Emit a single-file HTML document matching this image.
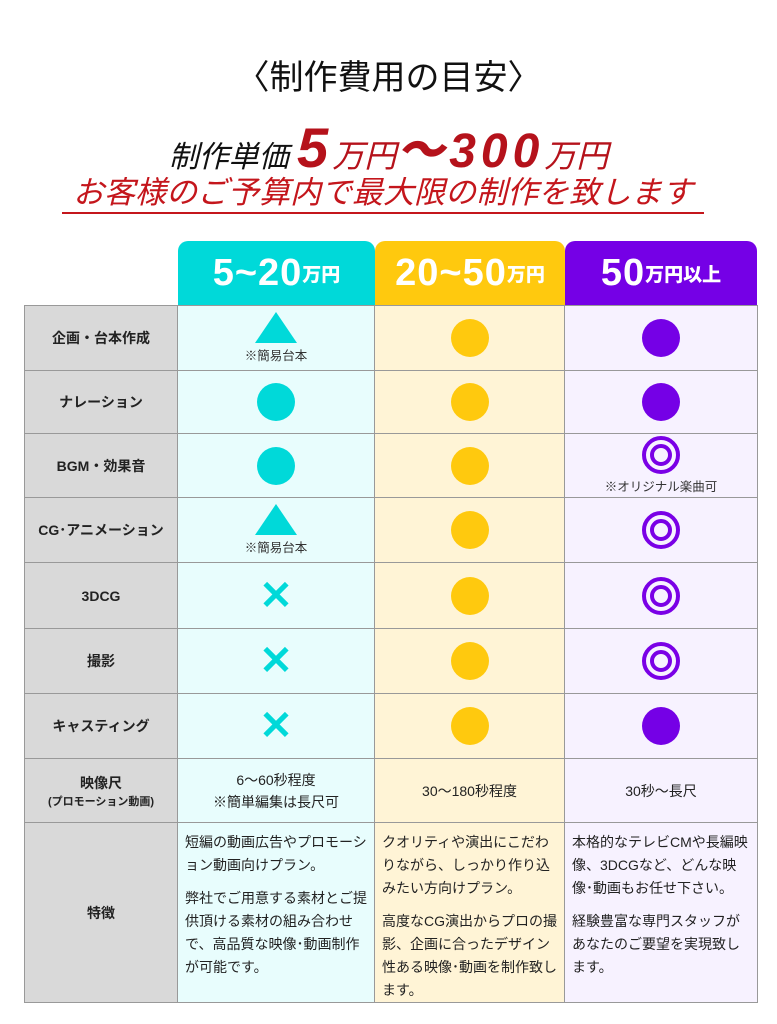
<!DOCTYPE html>
<html><head><meta charset="utf-8"><style>
*{margin:0;padding:0;box-sizing:border-box}
body{width:777px;height:1024px;background:#fff;position:relative;overflow:hidden;font-family:"Liberation Sans","Noto Sans CJK JP",sans-serif;color:#222}
.a{position:absolute}
.c{position:absolute;display:flex;align-items:center;justify-content:center;flex-direction:column;text-align:center}
.lab{background:#d9d9d9;font-weight:bold;font-size:14px;color:#222}
.cy{background:#e8fdfd}.ye{background:#fff4d6}.pu{background:#f7f2ff}
.dot{width:38px;height:38px;border-radius:50%}
.tri{width:0;height:0;border-left:21px solid transparent;border-right:21px solid transparent;border-bottom:31px solid #00d9d9}
.dbl{width:38px;height:38px;border-radius:50%;border:4px solid #7a00e6;display:flex;align-items:center;justify-content:center}
.dbl i{width:22px;height:22px;border-radius:50%;border:4px solid #7a00e6;display:block}
.x{font-size:40px;color:#00d9d9;font-weight:bold;line-height:1}
.note{font-size:12.5px;color:#333;margin-top:2px}
.f{position:absolute;font-size:14px;line-height:23px;color:#222;padding:0 7px}
.f p{margin-bottom:10px}
.hd{position:absolute;top:241px;height:65px;border-radius:10px 10px 0 0;color:#fff;font-weight:900;display:flex;align-items:center;justify-content:center}
.hd b{font-size:38px;font-weight:900;letter-spacing:1px}.hd s{text-decoration:none;font-size:19px}
</style></head><body>
<div class="a" style="top:50px;left:0;width:777px;text-align:center;font-size:34px;color:#111">〈制作費用の目安〉</div>
<div class="a" style="top:118px;left:0;width:777px;text-align:center;font-style:italic;color:#111;white-space:nowrap;line-height:60px"><span style="font-size:30px">制作単価 </span><span style="font-size:56px;font-weight:900;color:#b5121b;letter-spacing:4px">5</span><span style="font-size:32px;color:#b5121b">万円</span><span style="font-size:48px;font-weight:900;color:#b5121b;letter-spacing:5px">～300</span><span style="font-size:32px;color:#b5121b">万円</span></div>
<div class="a" style="top:174px;left:62px;width:642px;text-align:center;font-style:italic;font-size:31px;color:#c4161c;border-bottom:2px solid #c4161c;line-height:38px;white-space:nowrap">お客様のご予算内で最大限の制作を致します</div>

<div class="hd" style="left:178px;width:197px;background:#00d9d9"><b>5~20</b><s>万円</s></div>
<div class="hd" style="left:375px;width:190px;background:#ffc90e"><b>20~50</b><s>万円</s></div>
<div class="hd" style="left:565px;width:192px;background:#7500e6"><b>50</b><s>万円以上</s></div>

<div class="a" style="left:24px;top:305px;width:734px;height:698px;border:1px solid #999;background:#999"></div>
<div id="t"></div>
<script>
var rows=[[305,370,"企画・台本作成",'<div class="tri"></div><div class="note">※簡易台本</div>','<div class="dot" style="background:#ffc90e"></div>','<div class="dot" style="background:#7500e6"></div>'],
[370,433,"ナレーション",'<div class="dot" style="background:#00d9d9"></div>','<div class="dot" style="background:#ffc90e"></div>','<div class="dot" style="background:#7500e6"></div>'],
[433,497,"BGM・効果音",'<div class="dot" style="background:#00d9d9"></div>','<div class="dot" style="background:#ffc90e"></div>','<div class="dbl"><i></i></div><div class="note">※オリジナル楽曲可</div>'],
[497,562,"CG･アニメーション",'<div class="tri"></div><div class="note">※簡易台本</div>','<div class="dot" style="background:#ffc90e"></div>','<div class="dbl"><i></i></div>'],
[562,628,"3DCG",'<div class="x">✕</div>','<div class="dot" style="background:#ffc90e"></div>','<div class="dbl"><i></i></div>'],
[628,693,"撮影",'<div class="x">✕</div>','<div class="dot" style="background:#ffc90e"></div>','<div class="dbl"><i></i></div>'],
[693,758,"キャスティング",'<div class="x">✕</div>','<div class="dot" style="background:#ffc90e"></div>','<div class="dot" style="background:#7500e6"></div>'],
[758,822,'映像尺<br><span style="font-size:11px">(プロモーション動画)</span>','<div style="font-size:14px;line-height:22px">6～60秒程度<br>※簡単編集は長尺可</div>','<div style="font-size:14px">30～180秒程度</div>','<div style="font-size:14px">30秒～長尺</div>'],
[822,1002,"特徴","","",""]];
var cols=[[25,152,"lab"],[178,196,"cy"],[375,189,"ye"],[565,192,"pu"]];
var h="";
rows.forEach(function(r){for(var i=0;i<4;i++){var c=cols[i];h+='<div class="c '+c[2]+'" style="left:'+c[0]+'px;top:'+(r[0]+1)+'px;width:'+c[1]+'px;height:'+(r[1]-r[0]-1)+'px">'+r[i+2]+'</div>';}});
document.getElementById("t").innerHTML=h;
</script>
<div class="f" style="left:178px;top:831px;width:196px"><p>短編の動画広告やプロモーション動画向けプラン。</p><p>弊社でご用意する素材とご提供頂ける素材の組み合わせで、高品質な映像･動画制作が可能です。</p></div>
<div class="f" style="left:375px;top:831px;width:189px"><p>クオリティや演出にこだわりながら、しっかり作り込みたい方向けプラン。</p><p>高度なCG演出からプロの撮影、企画に合ったデザイン性ある映像･動画を制作致します。</p></div>
<div class="f" style="left:565px;top:831px;width:192px"><p>本格的なテレビCMや長編映像、3DCGなど、どんな映像･動画もお任せ下さい。</p><p>経験豊富な専門スタッフがあなたのご要望を実現致します。</p></div>
</body></html>
